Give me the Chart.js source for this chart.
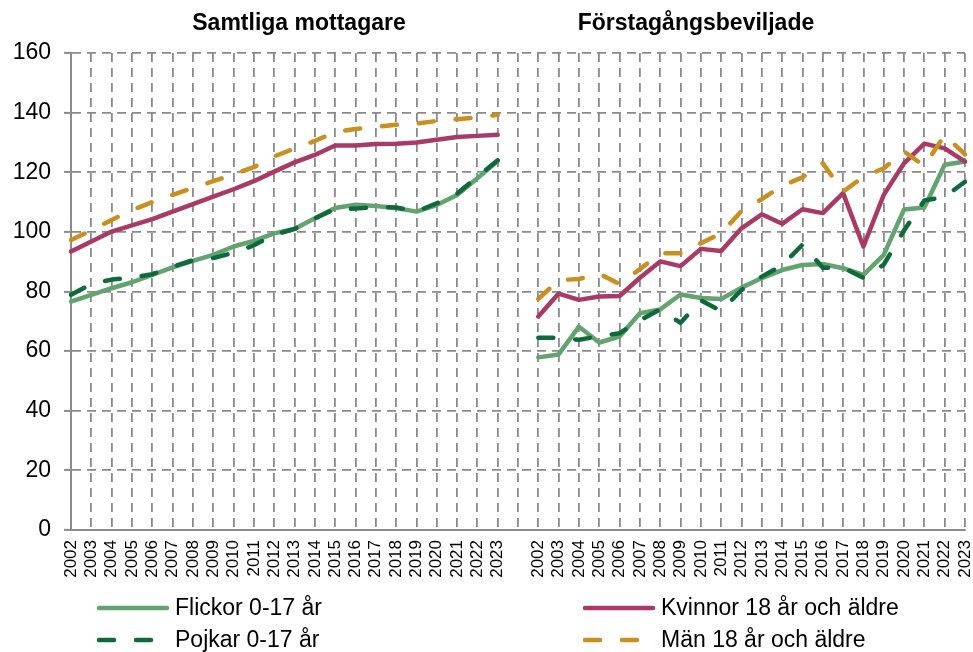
<!DOCTYPE html>
<html>
<head>
<meta charset="utf-8">
<script src="https://cdn.jsdelivr.net/npm/chart.js@4.4.1/dist/chart.umd.min.js"></script>
<style>
  html, body { margin: 0; padding: 0; background: #fff; }
  #wrap { position: relative; width: 973px; height: 652px; font-family: "Liberation Sans", Arial, sans-serif; }
  canvas { position: absolute; left: 0; top: 0; }
  .title { position: absolute; top: 8px; font-weight: bold; font-size: 23px; color: #000; white-space: nowrap; transform: translateX(-50%); line-height: 28px; }
  .leg { position: absolute; font-size: 23px; color: #000; white-space: nowrap; line-height: 28px; }
  svg.legline { position: absolute; }
</style>
</head>
<body>
<div id="wrap">
  <canvas id="c" width="973" height="652"></canvas>
  <div class="title" style="left:299px">Samtliga mottagare</div>
  <div class="title" style="left:696px">Förstagångsbeviljade</div>
  <div id="legend"></div>
</div>
<script>
// ---- Data ----
const years = ['2002','2003','2004','2005','2006','2007','2008','2009','2010','2011','2012','2013','2014','2015','2016','2017','2018','2019','2020','2021','2022','2023'];
const panelTitles = ['Samtliga mottagare', 'Förstagångsbeviljade'];
const seriesNames = ['Flickor 0-17 år', 'Pojkar 0-17 år', 'Kvinnor 18 år och äldre', 'Män 18 år och äldre'];
const yTicks = [0, 20, 40, 60, 80, 100, 120, 140, 160];

// Samtliga mottagare
const samtligaFlickor = [76.6, 78.9, 81.1, 83.1, 85.6, 88.1, 90.3, 92.3, 95.1, 97.0, 99.5, 101.0, 104.6, 108.0, 109.1, 108.7, 108.0, 106.8, 109.0, 112.4, 118.0, 123.8];
const samtligaPojkar  = [78.9, 82.5, 84.0, 84.7, 85.8, 88.3, 90.5, 91.2, 93.0, 95.5, 99.0, 101.0, 104.5, 107.7, 107.8, 108.3, 108.2, 106.8, 109.6, 112.8, 118.5, 124.0];
const samtligaKvinnor = [93.4, 96.8, 100.1, 102.2, 104.3, 106.8, 109.3, 111.8, 114.3, 117.0, 120.2, 123.3, 125.8, 129.0, 129.0, 129.5, 129.6, 130.0, 130.9, 131.8, 132.2, 132.6];
const samtligaMan     = [97.3, 100.5, 104.0, 107.3, 110.0, 112.4, 114.8, 117.0, 119.3, 121.7, 125.3, 128.0, 130.5, 133.5, 134.5, 135.2, 135.9, 136.3, 137.2, 137.8, 138.4, 139.3];

// Förstagångsbeviljade
const forstaFlickor = [57.9, 58.9, 68.2, 62.9, 64.9, 72.7, 74.0, 79.0, 77.8, 77.5, 81.3, 84.5, 87.2, 88.9, 89.2, 87.8, 85.6, 92.3, 107.5, 108.2, 122.5, 123.6];
const forstaPojkar  = [64.5, 64.5, 63.8, 65.0, 66.0, 70.3, 74.0, 69.5, 77.0, 73.5, 80.5, 85.0, 88.8, 95.7, 88.0, 88.0, 84.6, 89.0, 100.5, 110.5, 111.8, 116.8];
const forstaKvinnor = [71.6, 79.3, 77.2, 78.3, 78.5, 84.6, 90.1, 88.5, 94.3, 93.6, 101.2, 105.9, 102.7, 107.6, 106.3, 113.0, 95.1, 112.4, 123.0, 129.6, 128.0, 123.6];
const forstaMan     = [77.5, 83.8, 84.2, 86.0, 82.5, 87.5, 92.8, 92.8, 96.2, 99.5, 107.0, 111.0, 115.5, 118.3, 123.0, 113.5, 118.5, 121.3, 127.0, 122.1, 132.5, 126.0];

// ---- Styles ----
const colors = ['#62A36F', '#10693A', '#A83A65', '#C98F20'];
const dashed = [false, true, false, true];
const DASH = [15, 22];
const GRID = '#8a8a8a';
const AXIS = '#8c8c8c';
const FONT = '"Liberation Sans", Arial, sans-serif';

const labels = [...years, '', ...years];
const joined = [
  [...samtligaFlickor, null, ...forstaFlickor],
  [...samtligaPojkar,  null, ...forstaPojkar],
  [...samtligaKvinnor, null, ...forstaKvinnor],
  [...samtligaMan,     null, ...forstaMan]
];
const drawOrder = [3, 2, 1, 0]; // lower = on top

const datasets = seriesNames.map((name, i) => ({
  label: name,
  data: joined[i],
  borderColor: colors[i],
  backgroundColor: colors[i],
  borderWidth: 4.5,
  borderDash: dashed[i] ? DASH : [],
  borderCapStyle: 'round',
  borderJoinStyle: 'round',
  pointRadius: 0,
  pointHoverRadius: 0,
  tension: 0,
  spanGaps: false,
  fill: false,
  order: drawOrder[i]
}));

new Chart(document.getElementById('c'), {
  type: 'line',
  data: { labels, datasets },
  options: {
    responsive: false,
    animation: false,
    events: [],
    layout: { padding: { top: 53, right: 8, left: 0, bottom: 0 } },
    plugins: { legend: { display: false }, tooltip: { enabled: false }, title: { display: false } },
    scales: {
      x: {
        type: 'category',
        offset: false,
        afterFit: s => { s.height = 122; s.paddingLeft = 0; s.paddingRight = 0; },
        grid: {
          display: true, color: GRID, lineWidth: 1.8,
          drawTicks: false, tickLength: 0
        },
        border: { display: true, color: AXIS, width: 2, dash: [9, 6] },
        ticks: {
          autoSkip: false, maxRotation: 90, minRotation: 90, padding: 10,
          color: '#000', font: { family: FONT, size: 17 }
        }
      },
      y: {
        min: 0, max: 160,
        afterFit: s => { s.width = 71; },
        afterBuildTicks: s => { s.ticks = yTicks.map(v => ({ value: v })); },
        grid: {
          display: true, color: GRID, lineWidth: 1.8,
          drawTicks: true, tickLength: 7, tickColor: AXIS, tickWidth: 2, tickBorderDash: []
        },
        border: { display: true, color: AXIS, width: 2, dash: [9, 6] },
        ticks: { stepSize: 20, padding: 13, color: '#000', font: { family: FONT, size: 23 } }
      }
    }
  }
});

// ---- HTML legend (2 columns x 2 rows) ----
const legendPos = [
  { x: 97, y: 608 },   // Flickor
  { x: 97, y: 640 },   // Pojkar
  { x: 583, y: 608 },  // Kvinnor
  { x: 583, y: 640 }   // Män
];
const legend = document.getElementById('legend');
seriesNames.forEach((name, i) => {
  const p = legendPos[i];
  const svg = document.createElementNS('http://www.w3.org/2000/svg', 'svg');
  svg.setAttribute('class', 'legline');
  svg.setAttribute('width', '74');
  svg.setAttribute('height', '10');
  svg.style.left = p.x + 'px';
  svg.style.top = (p.y - 5) + 'px';
  const ln = document.createElementNS('http://www.w3.org/2000/svg', 'line');
  ln.setAttribute('x1', '2'); ln.setAttribute('x2', '70');
  ln.setAttribute('y1', '5'); ln.setAttribute('y2', '5');
  ln.setAttribute('stroke', colors[i]);
  ln.setAttribute('stroke-width', '4.5');
  ln.setAttribute('stroke-linecap', 'round');
  if (dashed[i]) ln.setAttribute('stroke-dasharray', DASH.join(' '));
  svg.appendChild(ln);
  legend.appendChild(svg);
  const t = document.createElement('div');
  t.className = 'leg';
  t.textContent = name;
  t.style.left = (p.x + 78) + 'px';
  t.style.top = (p.y - 15) + 'px';
  legend.appendChild(t);
});
</script>
</body>
</html>
